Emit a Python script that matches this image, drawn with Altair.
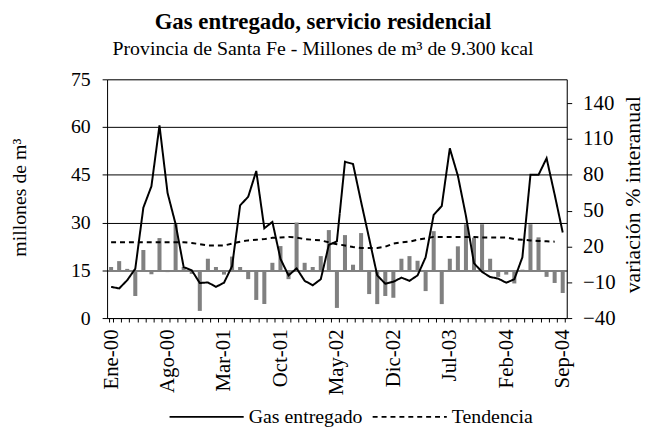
import altair as alt
import pandas as pd

MES = ["Ene", "Feb", "Mar", "Abr", "May", "Jun", "Jul", "Ago", "Sep", "Oct", "Nov", "Dic"]
months = [f"{MES[i % 12]}-{i // 12:02d}" for i in range(57)]  # Ene-00 .. Sep-04

x_tick_labels = ["Ene-00", "Ago-00", "Mar-01", "Oct-01", "May-02", "Dic-02", "Jul-03", "Feb-04", "Sep-04"]

gas_entregado = [9.8, 9.3, 11.9, 15.5, 34.7, 41.4, 60.5, 39.3, 29.5, 16.0, 15.0, 11.0,
                 11.2, 9.8, 11.1, 16.3, 35.4, 38.1, 46.2, 28.2, 30.2, 18.6, 13.4, 15.6,
                 11.7, 10.3, 12.2, 23.0, 24.1, 49.1, 48.4, 36.5, 25.0, 13.4, 10.8, 11.4,
                 12.7, 11.7, 13.4, 19.1, 32.4, 35.2, 53.3, 44.7, 32.1, 17.2, 14.5, 12.9,
                 12.4, 11.1, 12.2, 19.1, 45.0, 45.0, 50.2, 38.8, 26.9]

tendencia = [23.8, 23.8, 23.8, 23.8, 23.8, 23.8, 23.8, 23.8, 23.8, 23.8, 23.6, 23.2,
             22.8, 22.8, 22.8, 23.4, 24.0, 24.4, 24.6, 24.8, 25.2, 25.3, 25.5, 25.3,
             24.8, 24.6, 24.4, 23.8, 23.2, 22.8, 22.3, 22.0, 22.0, 22.0, 22.4, 23.4,
             23.8, 24.0, 24.6, 25.0, 25.5, 25.5, 25.5, 25.5, 25.5, 25.5, 25.3, 25.3,
             25.3, 25.3, 24.8, 24.6, 24.4, 24.2, 24.1, 24.0, None]

variacion = [2.8, 7.7, 1.2, -21.5, 17.0, -3.3, 27.0, -1.5, 38.6, 2.8, -3.0, -34.0,
             9.7, 2.8, -3.6, 11.5, 2.8, -7.4, -24.8, -28.2, 6.3, 20.3, -7.4, 40.0,
             6.3, 2.8, 11.9, 33.7, -31.5, 29.5, 4.7, 31.2, -19.9, -28.3, -21.5, -23.0,
             9.7, 11.9, 8.0, -17.4, 32.8, -28.3, 9.7, 20.1, 38.6, 27.3, 38.6, 9.7,
             -5.5, -3.6, -11.0, 0.5, 38.6, 27.6, -5.5, -10.6, -19.0]

FONT = "Liberation Serif, Times New Roman, serif"

bars_df = pd.DataFrame({"mes": months, "var": variacion})
rows = []
for m, g, t in zip(months, gas_entregado, tendencia):
    rows.append({"mes": m, "serie": "Gas entregado", "valor": g})
    if t is not None:
        rows.append({"mes": m, "serie": "Tendencia", "valor": t})
lines_df = pd.DataFrame(rows)

label_expr = "indexof(" + str(x_tick_labels) + ", datum.value) >= 0 ? datum.value : ''"

x_enc = alt.X("mes:O", sort=months, title=None,
              scale=alt.Scale(paddingInner=0.5, paddingOuter=0.25),
              axis=alt.Axis(labelExpr=label_expr, labelAngle=-90, labelAlign="right",
                            labelBaseline="middle", labelFont=FONT, labelFontSize=21,
                            labelColor="black", labelPadding=7, tickBand="extent",
                            tickSize=4, tickColor="black", domainColor="black",
                            labelOverlap=False, grid=False))

bars = alt.Chart(bars_df).mark_bar(color="#808080").encode(
    x=x_enc,
    y=alt.Y("var:Q", title="variación % interanual",
            scale=alt.Scale(domain=[-40, 160], nice=False, zero=False),
            axis=alt.Axis(orient="right", values=[-40, -10, 20, 50, 80, 110, 140],
                          grid=False, labelFont=FONT, labelFontSize=21, labelColor="black",
                          tickSize=5, tickColor="black", domainColor="black", labelPadding=11,
                          titleFont=FONT, titleFontSize=22, titleFontWeight="normal",
                          titleColor="black", titleAngle=-90, titleX=66, titleY=116,
                          titleAlign="center", titleBaseline="middle")),
    y2=alt.datum(0),
)

lines = alt.Chart(lines_df).mark_line(color="black", strokeWidth=2).encode(
    x=alt.X("mes:O", sort=months),
    y=alt.Y("valor:Q", title="millones de m³",
            scale=alt.Scale(domain=[0, 75], nice=False),
            axis=alt.Axis(orient="left", values=[0, 15, 30, 45, 60, 75], grid=True,
                          gridColor="black", gridWidth=1, labelFont=FONT, labelFontSize=20,
                          labelColor="black", tickSize=5, tickColor="black",
                          domainColor="black", labelPadding=12, titleFont=FONT,
                          titleFontSize=20, titleFontWeight="normal", titleColor="black",
                          titleAngle=-90, titleX=-88, titleY=119, titleAlign="center",
                          titleBaseline="middle")),
    strokeDash=alt.StrokeDash("serie:N",
                              scale=alt.Scale(domain=["Gas entregado", "Tendencia"],
                                              range=[[1, 0], [5, 4]]),
                              legend=alt.Legend(title=None, orient="none", direction="horizontal",
                                                legendX=62, legendY=302,
                                                symbolType="stroke", symbolSize=5600,
                                                symbolStrokeWidth=2, symbolStrokeColor="black",
                                                labelFont=FONT, labelFontSize=20,
                                                labelColor="black", labelOffset=4,
                                                columnPadding=6)),
    detail="serie:N",
)

chart = alt.layer(bars, lines).resolve_scale(y="independent").properties(
    width=464, height=241,
    autosize=alt.AutoSizeParams(type="none"),
    padding={"left": 100, "top": 70, "right": 80, "bottom": 110},
    title=alt.TitleParams(text="Gas entregado, servicio residencial",
                          subtitle="Provincia de Santa Fe - Millones de m³ de 9.300 kcal",
                          font=FONT, fontSize=23, fontWeight="bold", color="black",
                          subtitleFont=FONT, subtitleFontSize=20, subtitleColor="black",
                          anchor="middle", dx=-14, offset=11, subtitlePadding=5),
).configure_view(stroke=None).configure(background="white")

chart.save("out.html", embed_options={"renderer": "svg", "actions": False})
